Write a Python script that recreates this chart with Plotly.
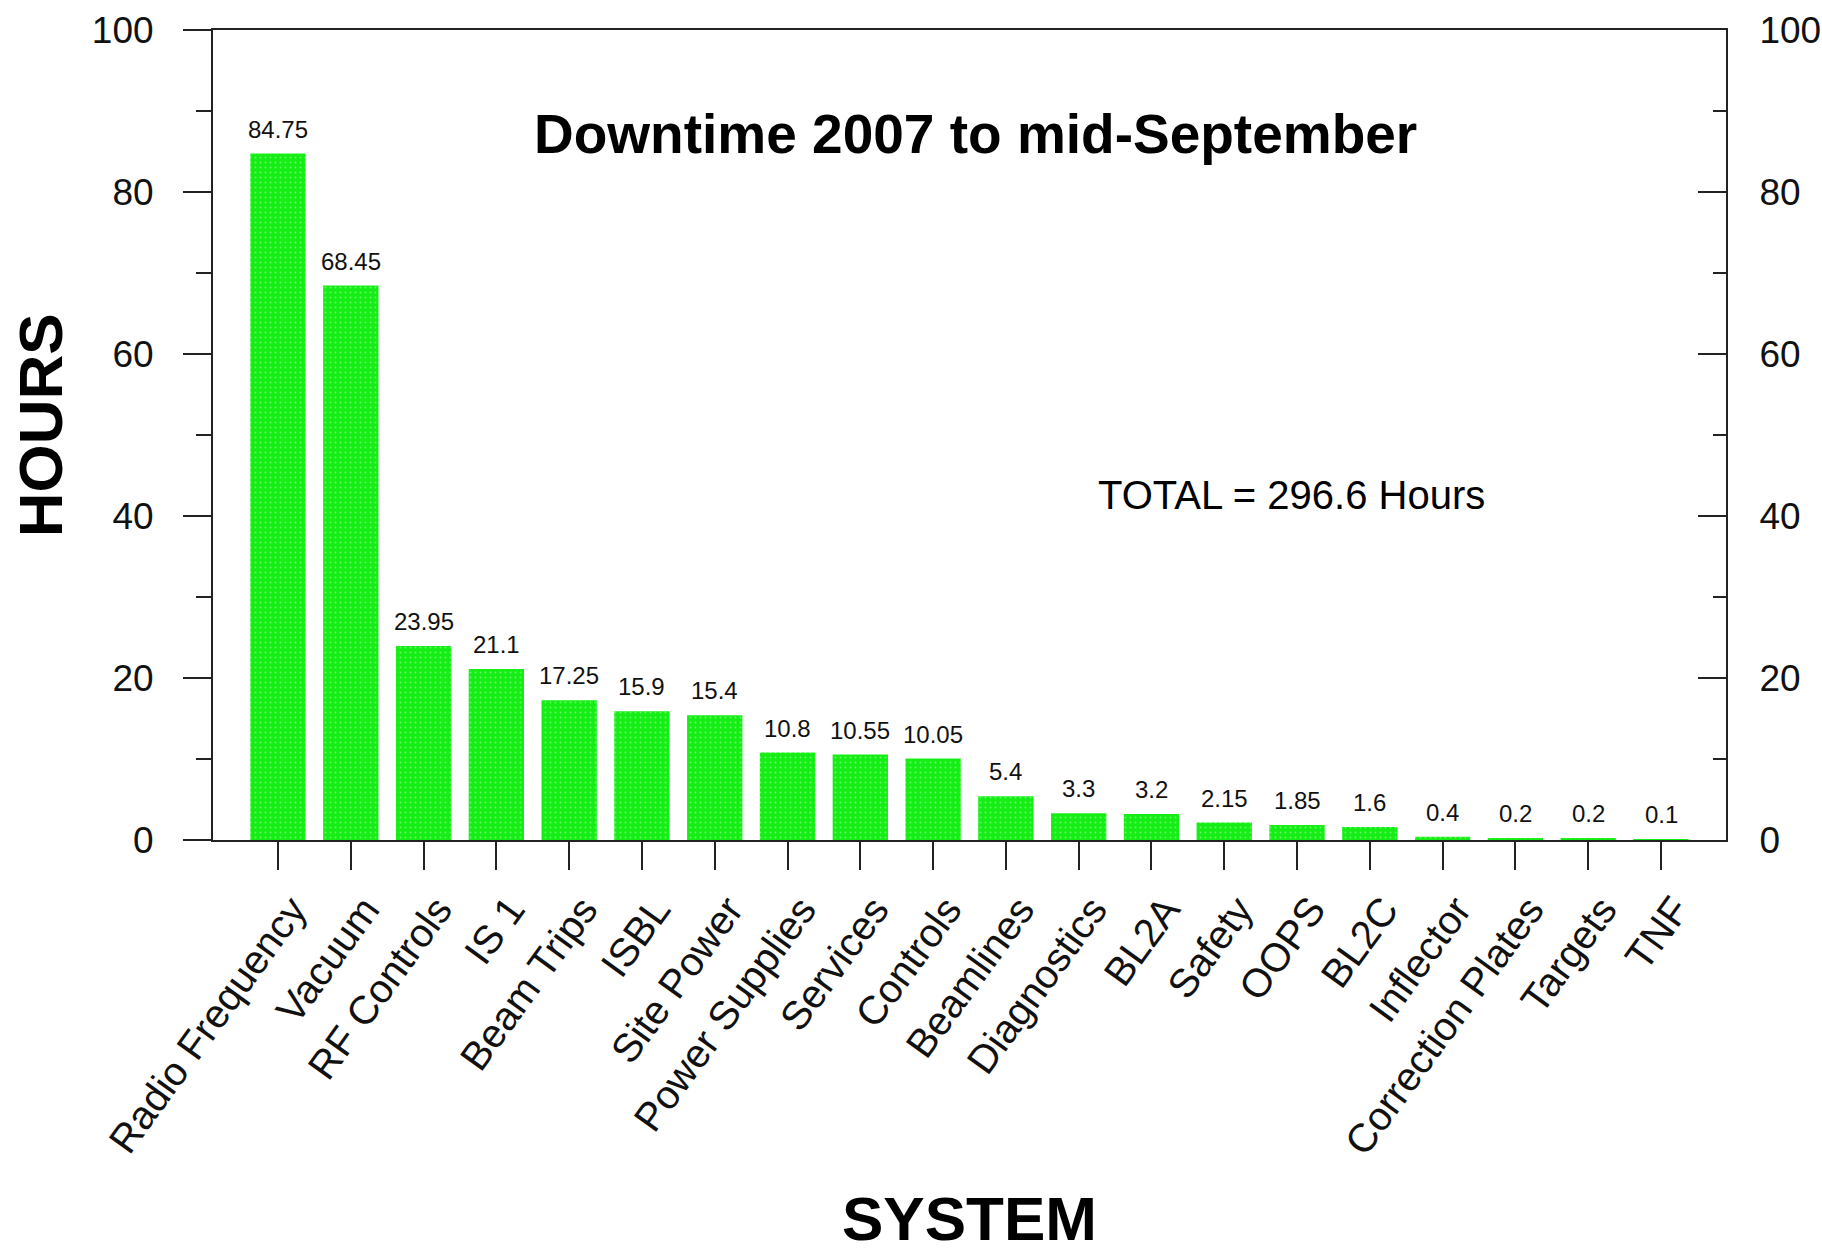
import plotly.graph_objects as go

categories = ["Radio Frequency", "Vacuum", "RF Controls", "IS 1", "Beam Trips", "ISBL",
              "Site Power", "Power Supplies", "Services", "Controls", "Beamlines",
              "Diagnostics", "BL2A", "Safety", "OOPS", "BL2C", "Inflector",
              "Correction Plates", "Targets", "TNF"]
hours = [84.75, 68.45, 23.95, 21.1, 17.25, 15.9, 15.4, 10.8, 10.55, 10.05, 5.4,
         3.3, 3.2, 2.15, 1.85, 1.6, 0.4, 0.2, 0.2, 0.1]
y_ticks = [0, 20, 40, 60, 80, 100]
title_text = "Downtime 2007 to mid-September"
total_text = "TOTAL = 296.6 Hours"
x_title = "SYSTEM"
y_title = "HOURS"

FONT = "Liberation Sans, Arial, Helvetica, sans-serif"
AX = "#222222"

fig = go.Figure()
fig.add_trace(go.Bar(
    x=categories, y=hours, width=0.76,
    marker=dict(color="#14ee14", line=dict(width=0),
                pattern=dict(shape=".", fgcolor="#b8ffb8", size=5, solidity=0.12,
                             fillmode="overlay")),
    showlegend=False, hoverinfo="x+y",
))
# invisible trace to attach the right-hand axis
fig.add_trace(go.Scatter(x=[categories[0]], y=[0], yaxis="y2", mode="markers",
                         marker=dict(opacity=0), showlegend=False, hoverinfo="skip"))

for c, v in zip(categories, hours):
    fig.add_annotation(x=c, y=v, text=f"{v:g}", showarrow=False, yanchor="bottom",
                       yshift=9, font=dict(family=FONT, size=24, color="#111111"))

fig.add_annotation(xref="paper", yref="paper", x=0.504, y=0.871, text=f"<b>{title_text}</b>",
                   showarrow=False, xanchor="center", yanchor="middle",
                   font=dict(family=FONT, size=55, color="black"))
fig.add_annotation(xref="paper", yref="paper", x=0.713, y=0.426, text=total_text,
                   showarrow=False, xanchor="center", yanchor="middle",
                   font=dict(family=FONT, size=40, color="black"))
fig.add_annotation(xref="paper", yref="paper", x=-0.1143, y=0.512, text=f"<b>{y_title}</b>",
                   textangle=-90, showarrow=False, xanchor="center", yanchor="middle",
                   font=dict(family=FONT, size=62, color="black"))
fig.add_annotation(xref="paper", yref="paper", x=0.5003, y=-0.467, text=f"<b>{x_title}</b>",
                   showarrow=False, xanchor="center", yanchor="middle",
                   font=dict(family=FONT, size=62, color="black"))

fig.update_layout(
    width=1822, height=1256,
    margin=dict(l=213, r=96, t=30, b=416, autoexpand=False),
    paper_bgcolor="white", plot_bgcolor="white",
    font=dict(family=FONT, color="black"),
    bargap=0.24,
    xaxis=dict(type="category", range=[-0.893, len(categories) - 1 + 0.893],
               automargin=False,
               showline=True, linecolor=AX, linewidth=2, mirror=True,
               ticks="outside", ticklen=28, tickwidth=1.5, tickcolor=AX,
               tickangle=-54, ticklabelshift=14,
               tickfont=dict(family=FONT, size=40, color="#111111"),
               showgrid=False, zeroline=False),
    yaxis=dict(range=[0, 100], tickvals=y_ticks, showline=True, linecolor=AX, linewidth=2,
               automargin=False,
               ticks="outside", ticklen=28, tickwidth=1.5, tickcolor=AX,
               minor=dict(dtick=10, ticks="outside", ticklen=15, tickwidth=1.5, tickcolor=AX),
               ticklabelstandoff=22,
               tickfont=dict(family=FONT, size=37, color="#111111"),
               showgrid=False, zeroline=False),
    yaxis2=dict(range=[0, 100], tickvals=y_ticks, overlaying="y", side="right",
                automargin=False,
                showline=True, linecolor=AX, linewidth=2,
                ticks="inside", ticklen=28, tickwidth=1.5, tickcolor=AX,
                minor=dict(dtick=10, ticks="inside", ticklen=13, tickwidth=1.5, tickcolor=AX),
                ticklabelstandoff=24,
                tickfont=dict(family=FONT, size=37, color="#111111"),
                showgrid=False, zeroline=False),
)

fig.write_html("out.html")
